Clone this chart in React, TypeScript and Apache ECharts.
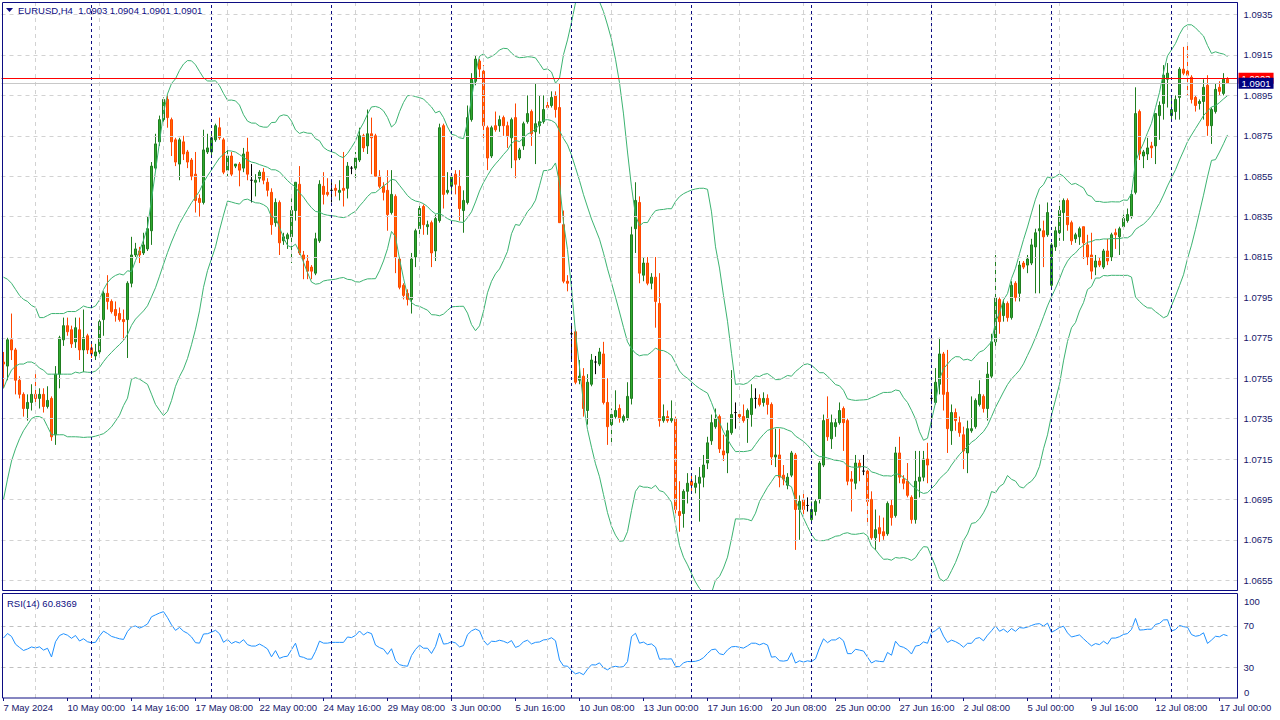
import React, { useEffect, useRef } from "react";
import * as echarts from "echarts";

const symbolName = "EURUSD,H4";

const opens = [
  1.0763,1.0761,1.0774,1.0769,1.0754,1.0747,1.0740,1.0743,1.0747,1.0745,
  1.0747,1.0741,1.0745,1.0727,1.0757,1.0774,1.0781,1.0779,1.0773,1.0779,
  1.0769,1.0776,1.0770,1.0766,1.0768,1.0784,1.0797,1.0793,1.0789,1.0787,
  1.0784,1.0784,1.0802,1.0816,1.0818,1.0817,1.0819,1.0828,1.0859,1.0872,
  1.0883,1.0893,1.0883,1.0873,1.0861,1.0872,1.0867,1.0863,1.0856,1.0844,
  1.0842,1.0867,1.0867,1.0873,1.0879,1.0873,1.0858,1.0865,1.0860,1.0861,
  1.0859,1.0867,1.0853,1.0852,1.0854,1.0857,1.0852,1.0847,1.0832,1.0842,
  1.0823,1.0824,1.0825,1.0838,1.0851,1.0816,1.0813,1.0810,1.0807,1.0823,
  1.0850,1.0847,1.0848,1.0849,1.0847,1.0849,1.0849,1.0859,1.0859,1.0863,
  1.0875,1.0870,1.0876,1.0875,1.0855,1.0850,1.0848,1.0837,1.0845,1.0814,
  1.0801,1.0797,1.0794,1.0815,1.0829,1.0840,1.0830,1.0832,1.0818,1.0833,
  1.0880,1.0847,1.0850,1.0856,1.0850,1.0838,1.0842,1.0883,1.0902,1.0912,
  1.0907,1.0879,1.0865,1.0880,1.0880,1.0884,1.0880,1.0874,1.0884,1.0864,
  1.0870,1.0882,1.0887,1.0877,1.0880,1.0882,1.0890,1.0890,1.0895,1.0889,
  1.0831,1.0803,1.0777,1.0778,1.0754,1.0756,1.0739,1.0752,1.0763,1.0762,
  1.0767,1.0743,1.0732,1.0736,1.0740,1.0734,1.0735,1.0745,1.0829,1.0842,
  1.0806,1.0812,1.0802,1.0805,1.0792,1.0734,1.0736,1.0734,1.0735,1.0689,
  1.0688,1.0699,1.0704,1.0701,1.0703,1.0706,1.0713,1.0724,1.0731,1.0736,
  1.0719,1.0718,1.0728,1.0738,1.0737,1.0736,1.0735,1.0737,1.0745,1.0745,
  1.0743,1.0745,1.0742,1.0716,1.0717,1.0707,1.0702,1.0707,1.0717,1.0690,
  1.0695,1.0692,1.0685,1.0689,1.0695,1.0712,1.0735,1.0725,1.0731,1.0733,
  1.0740,1.0734,1.0705,1.0703,1.0713,1.0709,1.0709,1.0695,1.0676,1.0681,
  1.0679,1.0678,1.0692,1.0687,1.0718,1.0705,1.0704,1.0696,1.0685,1.0704,
  1.0706,1.0715,1.0745,1.0743,1.0752,1.0767,1.0748,1.0729,1.0738,1.0733,
  1.0727,1.0718,1.0729,1.0731,1.0742,1.0746,1.0740,1.0756,1.0773,1.0794,
  1.0786,1.0792,1.0785,1.0802,1.0797,1.0812,1.0811,1.0812,1.0820,1.0828,
  1.0828,1.0826,1.0801,1.0820,1.0827,1.0837,1.0843,1.0832,1.0824,1.0825,
  1.0830,1.0821,1.0816,1.0810,1.0813,1.0810,1.0818,1.0815,1.0827,1.0825,
  1.0830,1.0833,1.0835,1.0847,1.0887,1.0865,1.0866,1.0870,1.0870,1.0885,
  1.0891,1.0903,1.0885,1.0887,1.0894,1.0908,1.0907,1.0904,1.0894,1.0891,
  1.0892,1.0900,1.0880,1.0887,1.0899,1.0896,1.0903,
];

const highs = [
  1.0768,1.0775,1.0787,1.0770,1.0756,1.0748,1.0747,1.0752,1.0757,1.0750,
  1.0750,1.0751,1.0746,1.0761,1.0776,1.0785,1.0785,1.0781,1.0785,1.0785,
  1.0789,1.0777,1.0773,1.0772,1.0784,1.0798,1.0806,1.0794,1.0793,1.0790,
  1.0789,1.0803,1.0825,1.0822,1.0820,1.0827,1.0835,1.0862,1.0876,1.0885,
  1.0894,1.0895,1.0884,1.0874,1.0874,1.0875,1.0868,1.0864,1.0867,1.0846,
  1.0878,1.0876,1.0877,1.0881,1.0884,1.0874,1.0868,1.0867,1.0861,1.0862,
  1.0869,1.0874,1.0861,1.0856,1.0858,1.0859,1.0854,1.0849,1.0844,1.0843,
  1.0827,1.0827,1.0844,1.0852,1.0860,1.0818,1.0816,1.0811,1.0827,1.0853,
  1.0857,1.0854,1.0852,1.0851,1.0853,1.0867,1.0862,1.0860,1.0867,1.0879,
  1.0876,1.0888,1.0884,1.0876,1.0858,1.0852,1.0858,1.0858,1.0846,1.0815,
  1.0802,1.0799,1.0817,1.0829,1.0841,1.0841,1.0833,1.0833,1.0836,1.0881,
  1.0881,1.0857,1.0856,1.0858,1.0858,1.0848,1.0890,1.0906,1.0915,1.0913,
  1.0910,1.0880,1.0880,1.0887,1.0885,1.0885,1.0882,1.0884,1.0891,1.0869,
  1.0882,1.0895,1.0888,1.0901,1.0895,1.0895,1.0892,1.0897,1.0897,1.0901,
  1.0838,1.0806,1.0781,1.0779,1.0764,1.0760,1.0757,1.0767,1.0766,1.0770,
  1.0773,1.0755,1.0740,1.0749,1.0742,1.0737,1.0753,1.0830,1.0852,1.0845,
  1.0815,1.0815,1.0807,1.0815,1.0807,1.0742,1.0739,1.0744,1.0736,1.0704,
  1.0700,1.0708,1.0708,1.0707,1.0711,1.0717,1.0726,1.0737,1.0740,1.0737,
  1.0727,1.0733,1.0759,1.0743,1.0739,1.0742,1.0740,1.0752,1.0750,1.0747,
  1.0748,1.0747,1.0743,1.0730,1.0730,1.0712,1.0708,1.0719,1.0718,1.0697,
  1.0698,1.0696,1.0694,1.0695,1.0714,1.0737,1.0746,1.0737,1.0735,1.0743,
  1.0741,1.0735,1.0709,1.0717,1.0715,1.0717,1.0710,1.0699,1.0690,1.0687,
  1.0686,1.0694,1.0695,1.0721,1.0726,1.0707,1.0713,1.0697,1.0719,1.0719,
  1.0719,1.0723,1.0749,1.0760,1.0775,1.0768,1.0769,1.0742,1.0740,1.0736,
  1.0731,1.0734,1.0746,1.0745,1.0754,1.0747,1.0763,1.0777,1.0816,1.0795,
  1.0794,1.0793,1.0803,1.0803,1.0813,1.0813,1.0816,1.0824,1.0829,1.0841,
  1.0833,1.0842,1.0822,1.0830,1.0843,1.0844,1.0844,1.0833,1.0827,1.0830,
  1.0830,1.0826,1.0827,1.0816,1.0815,1.0819,1.0824,1.0827,1.0829,1.0830,
  1.0836,1.0839,1.0848,1.0899,1.0888,1.0868,1.0874,1.0872,1.0886,1.0892,
  1.0910,1.0911,1.0895,1.0895,1.0909,1.0919,1.0921,1.0905,1.0895,1.0893,
  1.0903,1.0905,1.0889,1.0901,1.0902,1.0906,1.0904,
];

const lows = [
  1.0750,1.0754,1.0764,1.0747,1.0745,1.0736,1.0734,1.0739,1.0742,1.0740,
  1.0738,1.0740,1.0724,1.0722,1.0750,1.0771,1.0776,1.0770,1.0770,1.0764,
  1.0758,1.0767,1.0765,1.0764,1.0767,1.0776,1.0789,1.0787,1.0783,1.0783,
  1.0774,1.0765,1.0800,1.0815,1.0812,1.0816,1.0818,1.0821,1.0858,1.0870,
  1.0882,1.0879,1.0865,1.0860,1.0853,1.0863,1.0859,1.0853,1.0837,1.0835,
  1.0841,1.0866,1.0864,1.0872,1.0873,1.0856,1.0855,1.0855,1.0859,1.0850,
  1.0857,1.0853,1.0842,1.0845,1.0852,1.0851,1.0845,1.0826,1.0830,1.0816,
  1.0821,1.0819,1.0812,1.0833,1.0816,1.0804,1.0804,1.0804,1.0806,1.0822,
  1.0841,1.0845,1.0842,1.0845,1.0843,1.0840,1.0844,1.0856,1.0854,1.0862,
  1.0867,1.0866,1.0856,1.0855,1.0849,1.0843,1.0828,1.0836,1.0807,1.0799,
  1.0794,1.0791,1.0787,1.0810,1.0825,1.0826,1.0826,1.0810,1.0813,1.0832,
  1.0839,1.0846,1.0846,1.0846,1.0833,1.0827,1.0841,1.0882,1.0900,1.0904,
  1.0873,1.0858,1.0864,1.0877,1.0877,1.0875,1.0869,1.0859,1.0854,1.0863,
  1.0868,1.0881,1.0870,1.0861,1.0876,1.0881,1.0888,1.0889,1.0884,1.0832,
  1.0802,1.0798,1.0764,1.0752,1.0752,1.0736,1.0732,1.0751,1.0757,1.0761,
  1.0742,1.0722,1.0722,1.0735,1.0733,1.0733,1.0734,1.0742,1.0817,1.0802,
  1.0803,1.0801,1.0799,1.0780,1.0731,1.0733,1.0733,1.0733,1.0688,1.0679,
  1.0681,1.0693,1.0699,1.0698,1.0684,1.0701,1.0710,1.0722,1.0730,1.0718,
  1.0714,1.0708,1.0727,1.0730,1.0733,1.0733,1.0723,1.0731,1.0740,1.0741,
  1.0741,1.0737,1.0712,1.0711,1.0701,1.0702,1.0700,1.0706,1.0670,1.0675,
  1.0686,1.0689,1.0683,1.0687,1.0693,1.0711,1.0724,1.0720,1.0726,1.0732,
  1.0719,1.0702,1.0689,1.0700,1.0704,1.0707,1.0683,1.0675,1.0670,1.0674,
  1.0675,1.0677,1.0682,1.0686,1.0703,1.0700,1.0696,1.0683,1.0683,1.0696,
  1.0704,1.0703,1.0732,1.0742,1.0747,1.0739,1.0718,1.0722,1.0729,1.0726,
  1.0710,1.0708,1.0728,1.0730,1.0741,1.0738,1.0734,1.0755,1.0771,1.0777,
  1.0783,1.0783,1.0784,1.0793,1.0793,1.0809,1.0807,1.0811,1.0797,1.0797,
  1.0810,1.0825,1.0800,1.0818,1.0823,1.0823,1.0828,1.0821,1.0822,1.0821,
  1.0814,1.0811,1.0804,1.0806,1.0810,1.0809,1.0811,1.0813,1.0819,1.0816,
  1.0829,1.0832,1.0834,1.0846,1.0863,1.0859,1.0863,1.0864,1.0861,1.0873,
  1.0883,1.0889,1.0882,1.0883,1.0883,1.0905,1.0895,1.0891,1.0887,1.0888,
  1.0883,1.0875,1.0871,1.0886,1.0895,1.0895,1.0901,
];

const closes = [
  1.0762,1.0774,1.0769,1.0754,1.0747,1.0740,1.0743,1.0747,1.0745,1.0747,
  1.0741,1.0744,1.0726,1.0757,1.0775,1.0781,1.0778,1.0772,1.0780,1.0769,
  1.0775,1.0769,1.0767,1.0768,1.0783,1.0797,1.0793,1.0788,1.0786,1.0784,
  1.0783,1.0802,1.0816,1.0819,1.0816,1.0821,1.0829,1.0860,1.0871,1.0883,
  1.0893,1.0884,1.0872,1.0862,1.0873,1.0866,1.0862,1.0855,1.0843,1.0842,
  1.0868,1.0869,1.0874,1.0880,1.0874,1.0857,1.0865,1.0856,1.0861,1.0858,
  1.0866,1.0856,1.0853,1.0853,1.0857,1.0853,1.0848,1.0831,1.0842,1.0822,
  1.0825,1.0826,1.0838,1.0852,1.0817,1.0814,1.0808,1.0808,1.0824,1.0851,
  1.0846,1.0846,1.0848,1.0848,1.0848,1.0848,1.0860,1.0859,1.0864,1.0875,
  1.0869,1.0876,1.0874,1.0855,1.0850,1.0847,1.0836,1.0846,1.0815,1.0800,
  1.0796,1.0794,1.0814,1.0828,1.0839,1.0831,1.0831,1.0817,1.0834,1.0879,
  1.0846,1.0848,1.0855,1.0851,1.0839,1.0843,1.0884,1.0903,1.0913,1.0908,
  1.0880,1.0864,1.0879,1.0878,1.0883,1.0880,1.0875,1.0883,1.0863,1.0868,
  1.0881,1.0886,1.0876,1.0881,1.0882,1.0888,1.0889,1.0894,1.0888,1.0832,
  1.0803,1.0802,1.0777,1.0753,1.0756,1.0740,1.0753,1.0764,1.0763,1.0768,
  1.0743,1.0731,1.0737,1.0739,1.0735,1.0736,1.0746,1.0826,1.0843,1.0807,
  1.0812,1.0802,1.0805,1.0793,1.0734,1.0736,1.0734,1.0735,1.0690,1.0687,
  1.0699,1.0703,1.0702,1.0703,1.0706,1.0712,1.0723,1.0733,1.0735,1.0720,
  1.0717,1.0729,1.0737,1.0738,1.0736,1.0734,1.0739,1.0745,1.0745,1.0742,
  1.0745,1.0742,1.0716,1.0717,1.0706,1.0705,1.0706,1.0718,1.0690,1.0694,
  1.0690,1.0692,1.0690,1.0694,1.0713,1.0734,1.0726,1.0733,1.0733,1.0739,
  1.0733,1.0704,1.0704,1.0713,1.0711,1.0709,1.0694,1.0676,1.0680,1.0678,
  1.0677,1.0693,1.0686,1.0718,1.0706,1.0703,1.0697,1.0685,1.0704,1.0706,
  1.0715,1.0712,1.0745,1.0753,1.0767,1.0747,1.0730,1.0738,1.0734,1.0728,
  1.0719,1.0730,1.0730,1.0744,1.0747,1.0740,1.0757,1.0773,1.0795,1.0783,
  1.0792,1.0785,1.0801,1.0795,1.0811,1.0810,1.0814,1.0821,1.0827,1.0829,
  1.0825,1.0837,1.0821,1.0828,1.0838,1.0843,1.0831,1.0823,1.0826,1.0829,
  1.0822,1.0815,1.0808,1.0813,1.0811,1.0818,1.0813,1.0826,1.0826,1.0829,
  1.0834,1.0836,1.0846,1.0886,1.0866,1.0867,1.0869,1.0869,1.0886,1.0890,
  1.0905,1.0906,1.0888,1.0893,1.0908,1.0906,1.0905,1.0893,1.0890,1.0892,
  1.0899,1.0880,1.0888,1.0898,1.0897,1.0903,1.0901,
];

// Bollinger band values (before 20 bars of history are on screen)
const bbUpperStart = [1.0805,1.0804,1.0802,1.0799,1.0796,1.0794,1.0793,1.0791,1.0790,1.0785,1.0785,1.0786,1.0787,1.0787,1.0787,1.0787,1.0788,1.0788,1.0788];
const bbMiddleStart = [1.0750,1.0755,1.0759,1.0761,1.0762,1.0762,1.0763,1.0763,1.0762,1.0760,1.0759,1.0757,1.0757,1.0757,1.0757,1.0757,1.0757,1.0757,1.0758];
const bbLowerStart = [1.0695,1.0705,1.0714,1.0720,1.0725,1.0729,1.0732,1.0735,1.0736,1.0736,1.0735,1.0731,1.0727,1.0727,1.0727,1.0727,1.0726,1.0726,1.0726];
const bbPeriod = 20;
const bbDeviations = 2;

const priceTicks = [1.0655,1.0675,1.0695,1.0715,1.0735,1.0755,1.0775,1.0795,1.0815,1.0835,1.0855,1.0875,1.0895,1.0915,1.0935];
const priceMin = 1.065015;
const priceMax = 1.094074;
const bidPrice = 1.0901;
const askPrice = 1.09035;

const rsiPeriod = 14;
const rsiSeedAvgGain = 0.00046;
const rsiSeedAvgLoss = 0.00033;
const rsiLevels = [70, 30];
const rsiEdgeLabels = ["100", "0"];
const rsiCaption = "RSI(14) 60.8369";

const firstBarTimeUTC = Date.UTC(2024, 4, 7, 8);
const barHours = 4;
const labelEvery = 16;
const gridLineOffset = 8;
const emptyBarsAtEnd = 2;
const MONTHS = ["Jan","Feb","Mar","Apr","May","Jun","Jul","Aug","Sep","Oct","Nov","Dec"];

const FONT = '"Liberation Sans", Arial, sans-serif';
const NAVY = "#0c0c82";
const AXIS_TEXT = "#16166a";
const GRID_COLOR = "#d2d2d2";
const BULL_FILL = "#2ea82e";
const BULL_LINE = "#1f7d1f";
const BEAR_FILL = "#ff6a00";
const BEAR_LINE = "#ff4500";
const BAND_COLOR = "#3cb371";
const RSI_COLOR = "#1e90ff";

function buildTimes(n: number): Date[] {
  const out: Date[] = [];
  let t = firstBarTimeUTC;
  while (out.length < n) {
    const d = new Date(t);
    const dow = d.getUTCDay();
    if (dow !== 0 && dow !== 6) out.push(d);
    t += barHours * 3600 * 1000;
  }
  return out;
}
const pad2 = (v: number) => (v < 10 ? "0" + v : String(v));

function bollinger(c: number[]) {
  const up: number[] = [], mid: number[] = [], lo: number[] = [];
  for (let i = 0; i < c.length; i++) {
    if (i < bbPeriod - 1) {
      up.push(bbUpperStart[i]); mid.push(bbMiddleStart[i]); lo.push(bbLowerStart[i]);
      continue;
    }
    let s = 0;
    for (let k = i - bbPeriod + 1; k <= i; k++) s += c[k];
    const m = s / bbPeriod;
    let v = 0;
    for (let k = i - bbPeriod + 1; k <= i; k++) v += (c[k] - m) * (c[k] - m);
    const sd = Math.sqrt(v / bbPeriod);
    up.push(m + bbDeviations * sd); mid.push(m); lo.push(m - bbDeviations * sd);
  }
  return { up, mid, lo };
}

function rsiSeries(c: number[]) {
  let g = rsiSeedAvgGain, l = rsiSeedAvgLoss;
  const out: number[] = [100 * g / (g + l)];
  for (let i = 1; i < c.length; i++) {
    const ch = c[i] - c[i - 1];
    g = (g * (rsiPeriod - 1) + Math.max(ch, 0)) / rsiPeriod;
    l = (l * (rsiPeriod - 1) + Math.max(-ch, 0)) / rsiPeriod;
    out.push(100 * g / (g + l));
  }
  return out;
}

export default function App() {
  const ref = useRef<HTMLDivElement>(null);
  useEffect(() => {
    if (!ref.current) return;
    const chart = echarts.init(ref.current, undefined, { renderer: "svg" });
    const n = closes.length;
    const times = buildTimes(n);
    const cats = times.map((d, i) =>
      i === 0
        ? `${d.getUTCDate()} ${MONTHS[d.getUTCMonth()]} ${d.getUTCFullYear()}`
        : `${d.getUTCDate()} ${MONTHS[d.getUTCMonth()]} ${pad2(d.getUTCHours())}:${pad2(d.getUTCMinutes())}`
    );
    for (let k = 0; k < emptyBarsAtEnd; k++) cats.push("");
    const separators: number[] = [];
    times.forEach((d, i) => { if (d.getUTCDay() === 1 && d.getUTCHours() === 0) separators.push(i); });
    const gridBars: number[] = [];
    for (let i = gridLineOffset; i < cats.length; i += labelEvery) gridBars.push(i);

    const candleData = closes.map((c, i) => {
      const item: any = { value: [opens[i], c, lows[i], highs[i]] };
      if (opens[i] === c) {
        item.itemStyle = { color: "#000", color0: "#000", borderColor: "#000", borderColor0: "#000" };
      }
      return item;
    });
    const bb = bollinger(closes);
    const rsi = rsiSeries(closes);
    const last = n - 1;
    const headerText = `${symbolName}  ${opens[last].toFixed(4)} ${highs[last].toFixed(4)} ${lows[last].toFixed(4)} ${closes[last].toFixed(4)}`;

    const gridStyle = { color: GRID_COLOR, type: [4, 4] as any, width: 1 };
    const sepStyle = { color: NAVY, type: [3, 3] as any, width: 1 };
    const vLines = [
      ...gridBars.map((i) => ({ xAxis: i, lineStyle: gridStyle })),
      ...separators.map((i) => ({ xAxis: i, lineStyle: sepStyle })),
    ];
    const labelInterval = (idx: number) => idx % labelEvery === 0 && idx < n;
    const truncate = (v: number) => (Math.floor(v * 1e4 + 1e-6) / 1e4).toFixed(4);
    const bandSeries = (data: number[], name: string) => ({
      type: "line", name, xAxisIndex: 0, yAxisIndex: 0, data, symbol: "none", showSymbol: false,
      lineStyle: { color: BAND_COLOR, width: 1 }, silent: true, z: 3,
    });
    const priceLabel = (bg: string) => ({
      show: true, position: "end", distance: 1, formatter: (p: any) => truncate(p.value),
      backgroundColor: bg, color: "#ffffff", fontSize: 9.5, fontFamily: FONT, padding: [1, 3, 0, 3], lineHeight: 10,
    });

    const option: any = {
      animation: false,
      backgroundColor: "#ffffff",
      textStyle: { fontFamily: FONT },
      grid: [
        { left: 1.5, top: 3, width: 1236, height: 587 },
        { left: 1.5, top: 595, width: 1236, height: 103 },
      ],
      xAxis: [
        { type: "category", gridIndex: 0, data: cats, boundaryGap: true, axisLine: { show: false }, axisTick: { show: false }, axisLabel: { show: false }, splitLine: { show: false } },
        {
          type: "category", gridIndex: 1, data: cats, boundaryGap: true,
          axisLine: { show: false },
          axisTick: { show: true, alignWithLabel: true, interval: labelInterval, length: 3, lineStyle: { color: NAVY } },
          axisLabel: { show: true, interval: labelInterval, align: "left", margin: 4, fontSize: 9.5, color: AXIS_TEXT, fontFamily: FONT, hideOverlap: false },
          splitLine: { show: false },
        },
      ],
      yAxis: [
        {
          type: "value", gridIndex: 0, position: "right", min: priceMin, max: priceMax,
          axisLine: { show: true, lineStyle: { color: NAVY } }, axisTick: { show: false },
          axisLabel: { customValues: priceTicks, formatter: (v: number) => v.toFixed(4), margin: 6, fontSize: 9.5, color: AXIS_TEXT, fontFamily: FONT },
          splitLine: { show: false },
        },
        {
          type: "value", gridIndex: 1, position: "right", min: 0, max: 100,
          axisLine: { show: true, lineStyle: { color: NAVY } }, axisTick: { show: false },
          axisLabel: { customValues: rsiLevels, margin: 6, fontSize: 9.5, color: AXIS_TEXT, fontFamily: FONT },
          splitLine: { show: false },
        },
      ],
      series: [
        {
          type: "line", xAxisIndex: 0, yAxisIndex: 0, data: [], silent: true, z: 1,
          markLine: {
            silent: true, precision: 6, symbol: ["none", "none"], label: { show: false }, animation: false, emphasis: { disabled: true },
            data: [...priceTicks.map((v) => ({ yAxis: v, lineStyle: gridStyle })), ...vLines],
          },
        },
        {
          type: "candlestick", xAxisIndex: 0, yAxisIndex: 0, data: candleData, barWidth: 2, silent: true, z: 2,
          itemStyle: { color: BULL_FILL, color0: BEAR_FILL, borderColor: BULL_LINE, borderColor0: BEAR_LINE, borderWidth: 1 },
        },
        bandSeries(bb.up, "BB upper"),
        bandSeries(bb.mid, "BB middle"),
        bandSeries(bb.lo, "BB lower"),
        {
          type: "line", xAxisIndex: 0, yAxisIndex: 0, data: [], silent: true, z: 5,
          markLine: {
            silent: true, precision: 6, symbol: ["none", "none"], animation: false, emphasis: { disabled: true },
            data: [
              { yAxis: askPrice, lineStyle: { color: "#ff0000", width: 1, type: "solid" }, label: priceLabel("#ff0000") },
              { yAxis: bidPrice, lineStyle: { color: "#c8c8c8", width: 1, type: "solid" }, label: priceLabel("#000080") },
            ],
          },
        },
        {
          type: "line", xAxisIndex: 1, yAxisIndex: 1, data: [], silent: true, z: 1,
          markLine: {
            silent: true, precision: 6, symbol: ["none", "none"], label: { show: false }, animation: false, emphasis: { disabled: true },
            data: [...rsiLevels.map((v) => ({ yAxis: v, lineStyle: { color: "#c0c0c0", type: [4, 4] as any, width: 1 } })), ...vLines],
          },
        },
        {
          type: "line", xAxisIndex: 1, yAxisIndex: 1, data: rsi, symbol: "none", showSymbol: false,
          lineStyle: { color: RSI_COLOR, width: 1 }, silent: true, z: 3,
        },
      ],
      graphic: [
        { type: "rect", silent: true, z: 100, shape: { x: 2.5, y: 2.5, width: 1235, height: 588 }, style: { fill: "none", stroke: NAVY, lineWidth: 1 } },
        { type: "rect", silent: true, z: 100, shape: { x: 2.5, y: 593.5, width: 1235, height: 104.5 }, style: { fill: "none", stroke: NAVY, lineWidth: 1 } },
        { type: "polygon", silent: true, z: 100, shape: { points: [[6, 8], [13, 8], [9.5, 12]] }, style: { fill: NAVY } },
        { type: "text", silent: true, z: 100, x: 18, y: 10.5, style: { text: headerText, fill: NAVY, fontSize: 9.5, fontFamily: FONT, verticalAlign: "middle" } },
        { type: "text", silent: true, z: 100, x: 7, y: 603, style: { text: rsiCaption, fill: NAVY, fontSize: 9.5, fontFamily: FONT, verticalAlign: "middle" } },
        { type: "text", silent: true, z: 100, x: 1244, y: 601, style: { text: rsiEdgeLabels[0], fill: AXIS_TEXT, fontSize: 9.5, fontFamily: FONT, verticalAlign: "middle" } },
        { type: "text", silent: true, z: 100, x: 1244, y: 692, style: { text: rsiEdgeLabels[1], fill: AXIS_TEXT, fontSize: 9.5, fontFamily: FONT, verticalAlign: "middle" } },
      ],
    };
    chart.setOption(option);
    return () => chart.dispose();
  }, []);
  return <div ref={ref} style={{ position: "absolute", left: 0, top: 0, width: 1280, height: 720 }} />;
}
